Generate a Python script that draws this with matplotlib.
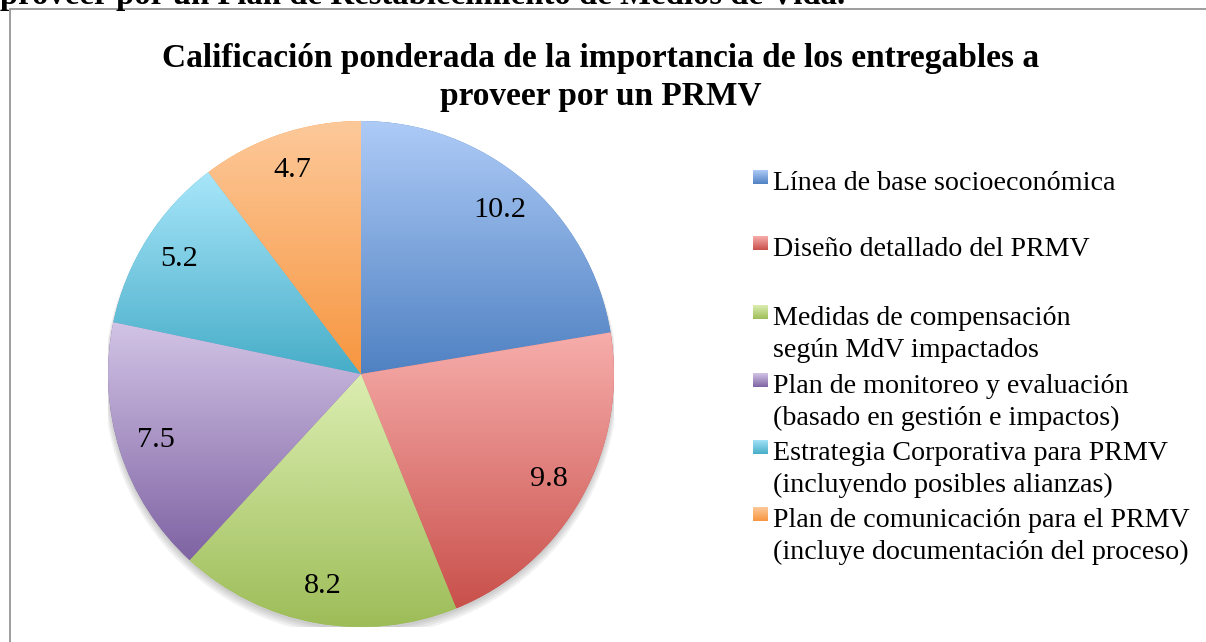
import numpy as np
import matplotlib
matplotlib.use("Agg")
import matplotlib.pyplot as plt
from matplotlib.colors import LinearSegmentedColormap
from matplotlib.patches import Rectangle, Ellipse
from matplotlib.textpath import TextPath
from matplotlib.font_manager import FontProperties

categories = [
    "Línea de base socioeconómica",
    "Diseño detallado del PRMV",
    "Medidas de compensación\nsegún MdV impactados",
    "Plan de monitoreo y evaluación\n(basado en gestión e impactos)",
    "Estrategia Corporativa para PRMV\n(incluyendo posibles alianzas)",
    "Plan de comunicación para el PRMV\n(incluye documentación del proceso)",
]
values = [10.2, 9.8, 8.2, 7.5, 5.2, 4.7]
value_labels = ["10.2", "9.8", "8.2", "7.5", "5.2", "4.7"]
top_colors = ["#AECBF7", "#F7AEAC", "#DCEEB2", "#D2C4E6", "#A8E6FA", "#FDC99A"]
bottom_colors = ["#4F81C2", "#C9504B", "#9DBD58", "#7F63A3", "#47ADC8", "#F79640"]
title_lines = ["Calificación ponderada de la importancia de los entregables a",
               "proveer por un PRMV"]
page_text = "proveer por un Plan de Restablecimiento de Medios de Vida."

W, H = 1206, 642
fig = plt.figure(figsize=(W / 100, H / 100), dpi=100)
fig.patch.set_facecolor("white")

SERIF = "Liberation Serif"


def fit_size(text, target_px, weight="normal", family=SERIF):
    fp = FontProperties(family=family, weight=weight, size=10)
    w = TextPath((0, 0), text, prop=fp).get_extents().width
    return 10 * target_px / (w * 100 / 72)


psize = fit_size(page_text, 842, weight="bold")
fig.text(0.0, 1 - 4 / H, page_text, fontsize=psize, fontweight="bold",
         family=SERIF, ha="left", va="baseline")

fig.add_artist(Rectangle((10 / W, -0.1), 1.2, 1.1 - 9 / H, transform=fig.transFigure,
                         facecolor="none", edgecolor="#8c8c8c", linewidth=1.2))

tsize = fit_size(title_lines[0], 873, weight="bold")
for line, yb in zip(title_lines, [67, 105]):
    fig.text(601 / W, 1 - yb / H, line, fontsize=tsize, fontweight="bold",
             family=SERIF, ha="center", va="baseline")

R = 253
cx, cy = 361, 374
ax = fig.add_axes([(cx - R) / W, (H - cy - R) / H, 2 * R / W, 2 * R / H])
ax.set_aspect("equal")

for i in range(4):
    ax.add_patch(Ellipse((0, -0.012 - i * 0.006), 2.0 + i * 0.01, 2.0 + i * 0.006,
                         facecolor="black", alpha=0.05, edgecolor="none", zorder=0))

wedges, texts = ax.pie(values, startangle=90, counterclock=False, radius=1.0,
                       labels=None, wedgeprops=dict(linewidth=0, edgecolor="none"))

grad = np.linspace(0, 1, 256).reshape(-1, 1)
for w, tc, bc in zip(wedges, top_colors, bottom_colors):
    th = np.radians(np.linspace(w.theta1, w.theta2, 200))
    ys = np.concatenate([np.sin(th), [0]])
    xs = np.concatenate([np.cos(th), [0]])
    cmap = LinearSegmentedColormap.from_list("g", [bc, tc])
    im = ax.imshow(grad, cmap=cmap, extent=[xs.min(), xs.max(), ys.min(), ys.max()],
                   origin="lower", aspect="auto", interpolation="bilinear", zorder=2)
    im.set_clip_path(w)
    w.set_facecolor(bc)

lsize = fit_size(categories[0], 340)
dsize = lsize * 1.08
total = sum(values)
ang = 90.0
for v, lab in zip(values, value_labels):
    span = v / total * 360
    mid = np.radians(ang - span / 2)
    ang -= span
    ax.text(0.85 * np.cos(mid), 0.85 * np.sin(mid), lab, ha="center", va="center",
            fontsize=dsize, family=SERIF, zorder=5)

ax.set_xlim(-1, 1)
ax.set_ylim(-1, 1)
ax.axis("off")

entry_baselines = [190, 256, 325, 393, 460, 527]
for i, (lab, c1, c2) in enumerate(zip(categories, top_colors, bottom_colors)):
    base = entry_baselines[i]
    sq_top = base - 20
    sq = fig.add_axes([753 / W, (H - sq_top - 14) / H, 15 / W, 14 / H])
    sq.imshow(grad, cmap=LinearSegmentedColormap.from_list("g", [c2, c1]),
              origin="lower", aspect="auto", extent=[0, 1, 0, 1])
    sq.axis("off")
    for j, line in enumerate(lab.split("\n")):
        fig.text(773 / W, 1 - (base + 32 * j) / H, line, fontsize=lsize, family=SERIF,
                 ha="left", va="baseline")

fig.savefig("out.png", dpi=100)
